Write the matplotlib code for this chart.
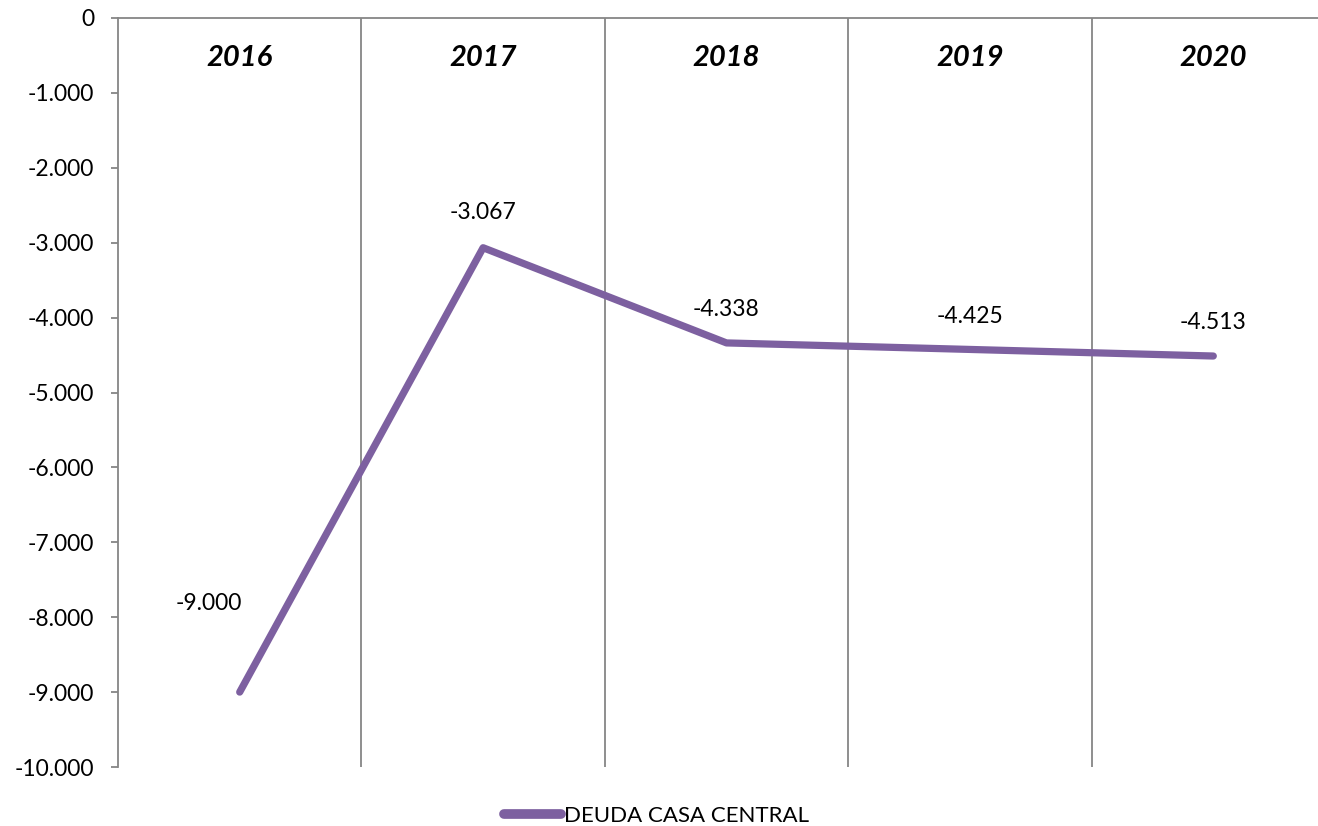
import matplotlib
matplotlib.use("Agg")
import matplotlib.pyplot as plt
from matplotlib.ticker import FuncFormatter

years = ["2016", "2017", "2018", "2019", "2020"]
deuda = [-9000, -3067, -4338, -4425, -4513]
series_name = "DEUDA CASA CENTRAL"
yticks = list(range(0, -10001, -1000))

plt.rcParams['font.family'] = ['Lato', 'DejaVu Sans']

def fmt(v, pos=None):
    s = f"{abs(int(round(v))):,}".replace(",", ".")
    return ("-" if v < 0 else "") + s

W, H = 1318, 826
fig = plt.figure(figsize=(W / 100, H / 100), dpi=100)
ax = fig.add_axes([118 / W, 1 - 767 / H, (1335 - 118) / W, (767 - 18) / H])

grid_c = "#868686"
line_c = "#7D60A0"
x = list(range(len(years)))

ax.plot(x, deuda, color=line_c, lw=5.2, solid_capstyle="round",
        solid_joinstyle="round", label=series_name, zorder=3)

for b in range(1, len(years)):
    ax.axvline(b - 0.5, color=grid_c, lw=1.3, zorder=1)

ax.set_xlim(-0.5, len(years) - 0.5)
ax.set_ylim(-10000, 0)
ax.set_yticks(yticks)
ax.yaxis.set_major_formatter(FuncFormatter(fmt))
ax.tick_params(axis="y", direction="out", length=5, width=1.3, color=grid_c,
               pad=12, labelsize=16.5, labelcolor="black")
ax.set_xticks([])

for s in ["right", "bottom"]:
    ax.spines[s].set_visible(False)
for s in ["left", "top"]:
    ax.spines[s].set_color(grid_c)
    ax.spines[s].set_linewidth(1.3)

for i, yr in enumerate(years):
    ax.text(i, 0.947, yr, transform=ax.get_xaxis_transform(), ha="center",
            va="center", fontsize=21, fontweight="bold", fontstyle="italic")

label_offsets = [(-22, 64), (0, 25), (0, 24), (0, 24), (0, 24)]
for i, v in enumerate(deuda):
    dx, dy = label_offsets[i]
    ax.annotate(fmt(v), (i, v), xytext=(dx, dy), textcoords="offset points",
                ha="center", va="center", fontsize=16.5)

leg = fig.legend(loc="center", bbox_to_anchor=(656 / W, 1 - 816 / H), frameon=False,
                 fontsize=16, handlelength=2.6, handletextpad=0.1, borderpad=0)
for ln in leg.get_lines():
    ln.set_linewidth(7)

fig.savefig("out.png", dpi=100)
